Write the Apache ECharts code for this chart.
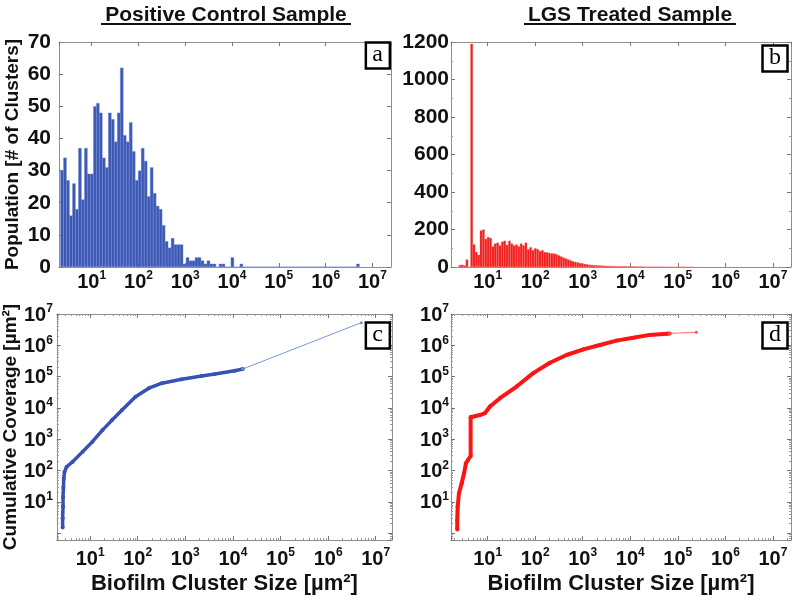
<!DOCTYPE html>
<html>
<head>
<meta charset="utf-8">
<script src="https://cdn.jsdelivr.net/npm/echarts@6/dist/echarts.min.js"></script>
<style>
    html, body {margin: 0; padding: 0; background: #fff;}
    #main {width: 800px; height: 601px;}
</style>
</head>
<body>
<div id="main"></div>
<script>
// histogram bins: log10 of first bin centre + log10 bin width, then counts per bin
const popBinStart = 0.365, popBinStep = 0.0639;
const popCounts = [
    30, 34, 27, 16, 26, 18, 37, 21, 37, 29,
    29, 50, 51, 48, 34, 31, 48, 46, 39, 48,
    62, 41, 39, 45, 36, 27, 30, 37, 33, 22,
    31, 23, 19, 18, 13, 8, 6, 9, 7, 7,
    7, 1, 3, 2, 2, 3, 3, 2, 1, 2,
    1, 1, 0, 1, 1, 0, 0, 3, 0, 0,
    1, 0, 0, 0, 0, 0, 0, 0, 0, 0,
    0, 0, 0, 0, 0, 0, 0, 0, 0, 0,
    0, 0, 0, 0, 0, 0, 0, 0, 0, 0,
    0, 0, 0, 0, 0, 0, 0, 0, 0, 1
];
const lgsBinStart = 0.417, lgsBinStep = 0.0496;
const lgsCounts = [
    10, 12, 8, 40, 0, 1190, 120, 80, 65, 195,
    200, 150, 160, 155, 110, 125, 130, 115, 135, 140,
    118, 140, 125, 115, 120, 110, 125, 115, 130, 95,
    105, 90, 100, 95, 85, 90, 80, 78, 75, 72,
    72, 68, 62, 56, 50, 45, 40, 35, 30, 27,
    24, 21, 18, 16, 14, 12, 11, 10, 9, 8,
    8, 7, 6, 6, 5, 5, 5, 4, 4, 4,
    4, 3, 4, 3, 3, 3, 2, 3, 2, 2,
    2, 2, 1, 2, 1, 2, 1, 0, 1, 0,
    0, 0, 0, 1, 0, 0, 0, 0, 0, 1
];

// cumulative coverage curves (cluster size, cumulative area)
const covPosX = [2.65, 2.65, 2.7, 2.7, 2.75, 2.8, 2.9, 3.2, 4.3, 7.0, 11.2, 18.2, 29, 47, 90, 171, 323, 843, 2200, 4200, 10900, 16200, 5.0e6];
const covPosY = [1.5, 3, 7, 14, 28, 55, 90, 130, 190, 400, 830, 1950, 4070, 8500, 22700, 42500, 61500, 82000, 104000, 121000, 154000, 175000, 5.3e6];
const covLgsX = [2.3, 2.3, 2.35, 2.5, 2.85, 3.2, 3.5, 3.9, 4.4, 4.4, 4.5, 6.9, 8.8, 11.2, 18.2, 40.7, 91, 204, 457, 1030, 2300, 5130, 11500, 25700, 57500, 67000, 2.45e5];
const covLgsY = [1.3, 2.6, 7, 18.6, 39, 81, 170, 220, 290, 5000, 5200, 5900, 6800, 11000, 20400, 48000, 129000, 276000, 490000, 740000, 1.02e6, 1.41e6, 1.74e6, 2.15e6, 2.35e6, 2.4e6, 2.6e6];

const columnTitles = ['Positive Control Sample', 'LGS Treated Sample'];
const panelTags = ['a', 'b', 'c', 'd'];
const xName = 'Biofilm Cluster Size [µm²]';
const yNames = ['Population [# of Clusters]', 'Cumulative Coverage [µm²]'];

const FONT = '"Liberation Sans", Arial, sans-serif';
const frameColor = '#8f8f8f';

function histData(start, step, counts) {
    return counts.map((c, i) => [Math.pow(10, start + i * step), c]);
}
function pairs(xs, ys) {
    return xs.map((x, i) => [x, ys[i]]);
}

// 10^n labels, blank at the non-decade ends and at 10^0
function expLabel(v) {
    let e = Math.log10(v);
    let r = Math.round(e);
    if (Math.abs(e - r) > 1e-6 || r < 1) return '';
    return '{b|10}{s|' + r + '}';
}
const expRich = {
    b: {fontSize: 20, fontWeight: 'bold', fontFamily: FONT, color: '#111', lineHeight: 22, verticalAlign: 'bottom'},
    s: {fontSize: 12, fontWeight: 'bold', fontFamily: FONT, color: '#111', lineHeight: 12, verticalAlign: 'top'}
};

const grids = [
    {left: 59, top: 42, width: 332, height: 225},
    {left: 451, top: 42, width: 340, height: 225},
    {left: 54, top: 314, width: 338, height: 226},
    {left: 451, top: 314, width: 340, height: 226}
];
const xRanges = [[2, 2.5e7], [1.7, 2.4e7], [2, 2.2e7], [1.7, 2.4e7]];

function logX(i, pos, labels) {
    return {
        type: 'log', gridIndex: i, position: pos,
        min: xRanges[i][0], max: xRanges[i][1],
        axisLine: {show: true, onZero: false, lineStyle: {color: frameColor, width: 1}},
        axisTick: {show: true, inside: true, length: 4, lineStyle: {color: '#777'}},
        minorTick: {show: i >= 2, splitNumber: 9, length: 2, lineStyle: {color: '#999'}},
        splitLine: {show: false},
        axisLabel: labels ? {
            show: true, formatter: expLabel, rich: expRich,
            margin: i >= 2 ? 7 : 3, showMinLabel: false, showMaxLabel: false
        } : {show: false},
        name: labels && i >= 2 ? xName : '',
        nameLocation: 'middle', nameGap: 33,
        nameTextStyle: {fontSize: 22, fontWeight: 'bold', fontFamily: FONT, color: '#111'}
    };
}

function countY(i, pos, labels) {
    let max = i === 0 ? 70 : 1200;
    let step = i === 0 ? 10 : 200;
    return {
        type: 'value', gridIndex: i, position: pos,
        min: 0, max: max, interval: step,
        axisLine: {show: true, lineStyle: {color: frameColor, width: 1}},
        axisTick: {show: true, inside: true, length: 4, lineStyle: {color: '#777'}},
        minorTick: {show: i === 1, splitNumber: 2, length: 2, lineStyle: {color: '#999'}},
        splitLine: {show: false},
        axisLabel: labels ? {
            show: true, margin: i === 0 ? 8 : 2,
            formatter: v => String(v),
            fontSize: 21, fontWeight: 'bold', fontFamily: FONT, color: '#111'
        } : {show: false},
        name: labels && i === 0 ? yNames[0] : '',
        nameLocation: 'middle', nameRotate: 90, nameGap: 37,
        nameTextStyle: {fontSize: 19, fontWeight: 'bold', fontFamily: FONT, color: '#111'}
    };
}

function coverY(i, pos, labels) {
    return {
        type: 'log', gridIndex: i, position: pos,
        min: 0.6, max: 1e7,
        axisLine: {show: true, onZero: false, lineStyle: {color: frameColor, width: 1}},
        axisTick: {show: true, inside: true, length: 4, lineStyle: {color: '#777'}},
        minorTick: {show: true, splitNumber: 9, length: 2, lineStyle: {color: '#999'}},
        splitLine: {show: false},
        axisLabel: labels ? {
            show: true, formatter: expLabel, rich: expRich,
            margin: i === 2 ? 4 : 2, showMinLabel: false
        } : {show: false},
        name: labels && i === 2 ? yNames[1] : '',
        nameLocation: 'middle', nameRotate: 90, nameGap: 33,
        nameTextStyle: {fontSize: 19, fontWeight: 'bold', fontFamily: FONT, color: '#111'}
    };
}

const tagPos = [
    {right: 410, top: 43},
    {right: 12, top: 46},
    {right: 410, top: 323},
    {right: 12, top: 323}
];

let chart = echarts.init(document.getElementById('main'), null, {renderer: 'canvas'});

let option = {
    backgroundColor: '#fff',
    animation: false,
    title: panelTags.map((t, i) => ({
        text: t,
        right: tagPos[i].right, top: tagPos[i].top,
        padding: [1, 7, 2, 7],
        borderWidth: 2.5, borderColor: '#000', backgroundColor: '#fff',
        textStyle: {fontFamily: '"Liberation Serif", "Times New Roman", serif', fontSize: 24, fontWeight: 'normal', color: '#000', lineHeight: 22}
    })),
    grid: grids.map(g => Object.assign({containLabel: false}, g)),
    xAxis: [
        logX(0, 'bottom', true), logX(1, 'bottom', true), logX(2, 'bottom', true), logX(3, 'bottom', true),
        logX(0, 'top', false), logX(1, 'top', false), logX(2, 'top', false), logX(3, 'top', false)
    ],
    yAxis: [
        countY(0, 'left', true), countY(1, 'left', true), coverY(2, 'left', true), coverY(3, 'left', true),
        countY(0, 'right', false), countY(1, 'right', false), coverY(2, 'right', false), coverY(3, 'right', false)
    ],
    series: [
        {
            type: 'bar', xAxisIndex: 0, yAxisIndex: 0,
            data: histData(popBinStart, popBinStep, popCounts),
            barWidth: 3.3,
            itemStyle: {color: '#3b58b6', borderColor: '#7088cf', borderWidth: 0.4}
        },
        {
            type: 'bar', xAxisIndex: 1, yAxisIndex: 1,
            data: histData(lgsBinStart, lgsBinStep, lgsCounts),
            barWidth: 2.5,
            itemStyle: {color: '#f21d1d', borderColor: '#f56a6a', borderWidth: 0.3}
        },
        {
            type: 'line', xAxisIndex: 2, yAxisIndex: 2,
            data: pairs(covPosX, covPosY).slice(0, -1),
            symbol: 'circle', symbolSize: 4, showAllSymbol: true,
            lineStyle: {color: '#3552b4', width: 3.5},
            itemStyle: {color: '#3552b4'}
        },
        {
            type: 'line', xAxisIndex: 2, yAxisIndex: 2,
            data: pairs(covPosX, covPosY).slice(-2),
            symbol: 'circle', symbolSize: 3,
            lineStyle: {color: '#7d97da', width: 1},
            itemStyle: {color: '#6f8bd6'}
        },
        {
            type: 'line', xAxisIndex: 3, yAxisIndex: 3,
            data: pairs(covLgsX, covLgsY).slice(0, -1),
            symbol: 'circle', symbolSize: 4, showAllSymbol: true,
            lineStyle: {color: '#ff1414', width: 4},
            itemStyle: {color: '#ff1414'}
        },
        {
            type: 'line', xAxisIndex: 3, yAxisIndex: 3,
            data: pairs(covLgsX, covLgsY).slice(-2),
            symbol: 'circle', symbolSize: 3,
            lineStyle: {color: '#ff6a6a', width: 1},
            itemStyle: {color: '#ff5050'}
        }
    ],
    graphic: [
        {
            type: 'text', x: 226, y: 15,
            style: {text: columnTitles[0], align: 'center', verticalAlign: 'middle', font: 'bold 21px ' + FONT, fill: '#111'}
        },
        {type: 'line', shape: {x1: 101, y1: 24, x2: 351, y2: 24}, style: {stroke: '#111', lineWidth: 2}},
        {
            type: 'text', x: 630, y: 15,
            style: {text: columnTitles[1], align: 'center', verticalAlign: 'middle', font: 'bold 21px ' + FONT, fill: '#111'}
        },
        {type: 'line', shape: {x1: 524, y1: 24, x2: 736, y2: 24}, style: {stroke: '#111', lineWidth: 2}}
    ]
};

chart.setOption(option);
</script>
</body>
</html>
